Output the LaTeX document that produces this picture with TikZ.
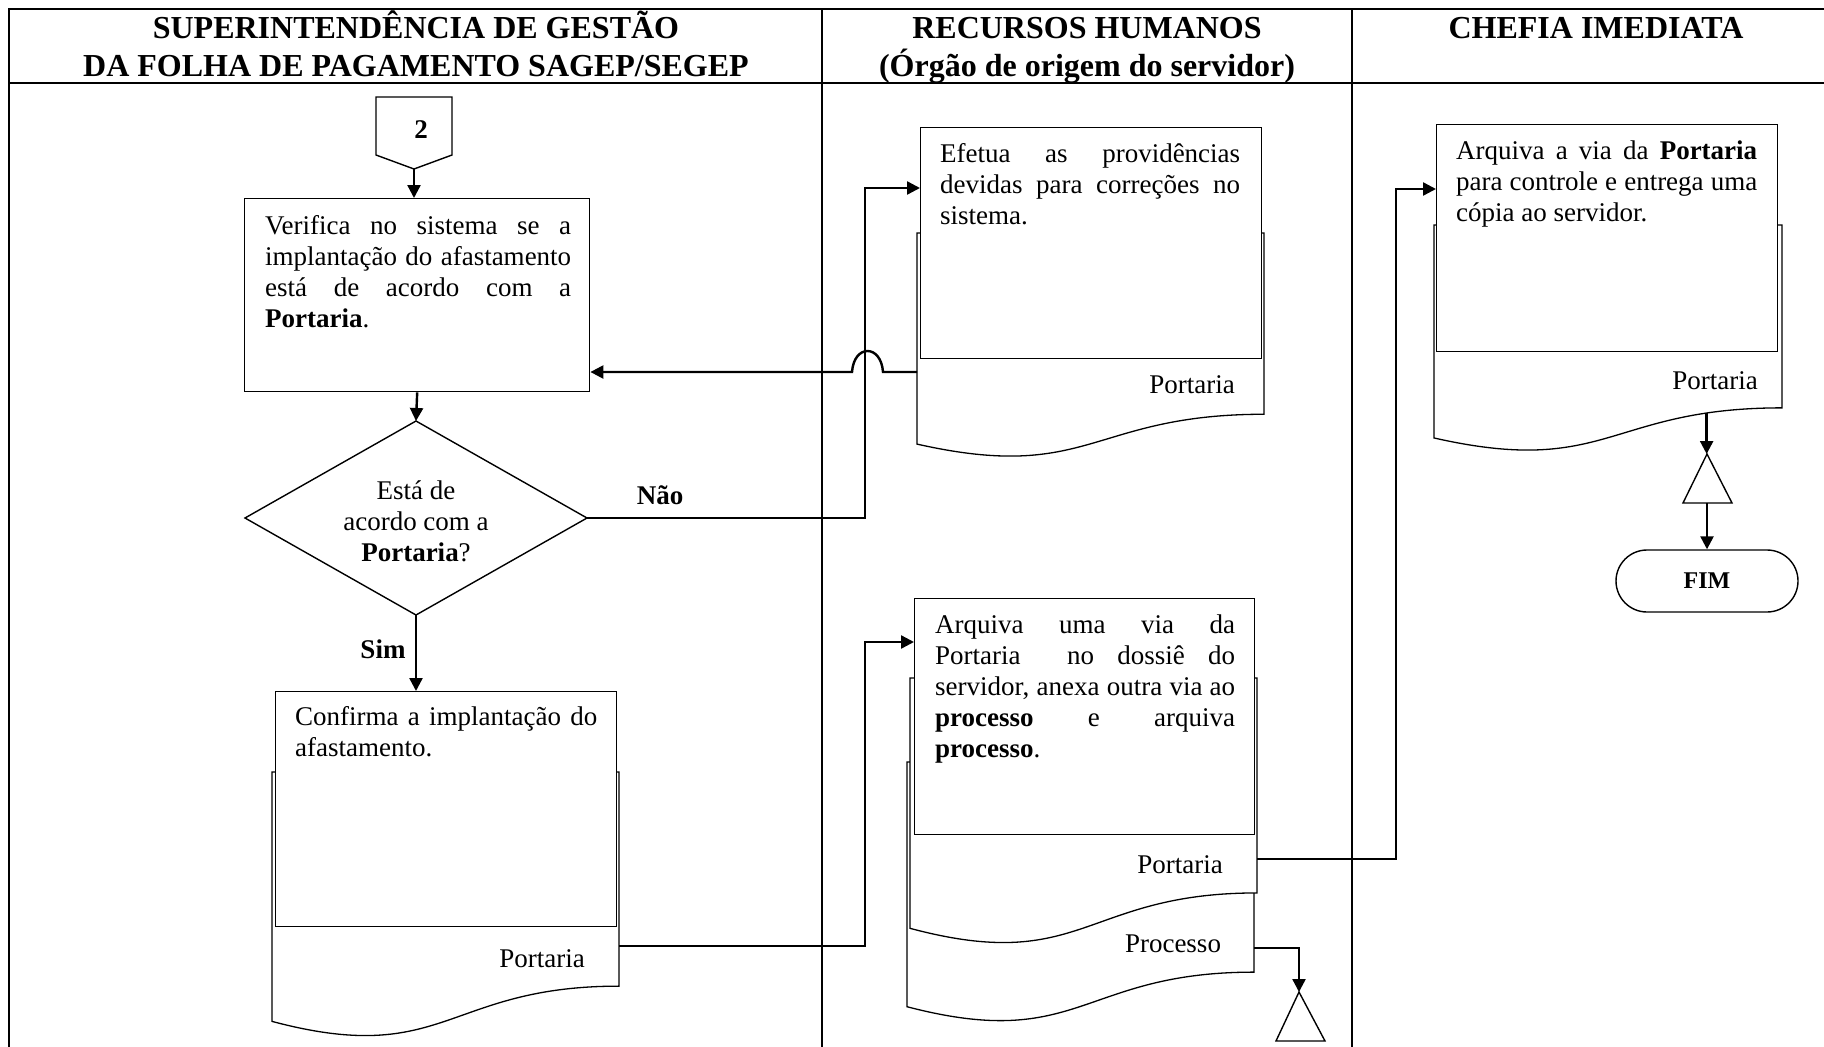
\documentclass[tikz,border=0pt]{standalone}
\usepackage{fontspec}
\setmainfont{Liberation Serif}
\usetikzlibrary{arrows.meta}

% body text: justified paragraph whose first baseline is the node's base
\newcommand\para[2]{\parbox[t]{#1pt}{\fontsize{27}{31}\selectfont\hyphenpenalty=10000\exhyphenpenalty=10000 #2}}
\newcommand\hdr{\fontsize{32}{38}\selectfont\bfseries}
\newcommand\bodyfont{\fontsize{27}{31}\selectfont}

% document symbol with a wavy lower edge: name, x0, y0, width, height
\newcommand\docshape[5]{%
  \draw[doc] (#2,#3) coordinate (#1-tl) -- ({#2+#4},#3) coordinate (#1-tr)
    -- ({#2+#4},{#3+0.802*#5}) coordinate (#1-br)
    .. controls ({#2+0.5*#4},{#3+0.802*#5}) and ({#2+0.5*#4},{#3+1.107*#5}) .. ({#2},{#3+0.934*#5})
    coordinate[pos=0.17] (#1-bot) coordinate (#1-bl) -- cycle;}

\tikzset{
  frame/.style={line width=2.6pt},
  lane/.style={line width=2.2pt},
  box/.style={draw, fill=white, line width=1.4pt, inner sep=0pt, anchor=north west},
  doc/.style={draw, fill=white, line width=1.3pt},
  shapeline/.style={draw, fill=white, line width=1.4pt},
  flow/.style={line width=2.4pt, -{Triangle[length=13pt,width=13pt]}},
  txt/.style={anchor=base west, inner sep=0pt},
  lbl/.style={anchor=base, inner sep=0pt, font=\bodyfont},
}

\begin{document}
\begin{tikzpicture}[x=1pt, y=-1pt]
\useasboundingbox (0,0) rectangle (1824,1047);

% swimlane frame
\draw[frame] (1824,9) -- (9,9) -- (9,1047);
\draw[frame] (9,83) -- (1824,83);
\draw[lane] (822,9) -- (822,1047);
\draw[lane] (1352,9) -- (1352,1047);

% lane headings
\node[anchor=base, inner sep=0pt] (h1a) at (416,38) {\hdr SUPERINTENDÊNCIA DE GESTÃO};
\node[anchor=base, inner sep=0pt] (h1b) at (416,76) {\hdr DA FOLHA DE PAGAMENTO SAGEP/SEGEP};
\node[anchor=base, inner sep=0pt] (h2a) at (1087,38) {\hdr RECURSOS HUMANOS};
\node[anchor=base, inner sep=0pt] (h2b) at (1087,76) {\hdr (Órgão de origem do servidor)};
\node[anchor=base, inner sep=0pt] (h3a) at (1596,38) {\hdr CHEFIA IMEDIATA};

% off-page connector 2
\draw[shapeline] (376,97) -- (452,97) -- (452,155) -- (414,169) coordinate (offpt) -- (376,155) -- cycle;
\node[lbl, font=\bodyfont\bfseries] (offlbl) at (421,138) {2};

% Verifica
\node[box, minimum width=345pt, minimum height=193pt] (verifica) at (244,198) {};
\node[txt] (verificatxt) at (265,234) {\para{306}{Verifica no sistema se a\linebreak implantação do afastamento\linebreak está de acordo com a\linebreak \textbf{Portaria}.}};

% decision
\draw[shapeline] (416,421) coordinate (dtop) -- (587,518) coordinate (dright)
  -- (416,615) coordinate (dbot) -- (245,518) coordinate (dleft) -- cycle;
\node[anchor=base, inner sep=0pt] (dtxt) at (416,499) {\parbox[t]{220pt}{\centering\fontsize{27}{31}\selectfont Está de\\acordo com a\\\textbf{Portaria}?}};

% Confirma
\docshape{cdoc}{272}{772}{347}{267}
\node[box, minimum width=341pt, minimum height=235pt] (confirma) at (275,691) {};
\node[txt] (confirmatxt) at (295,725) {\para{302}{Confirma a implantação do\linebreak afastamento.}};
\node[lbl] (cdoclbl) at (542,967) {Portaria};
\coordinate (cport) at (619,946);

% Efetua
\docshape{edoc}{917}{233}{347}{226}
\node[box, minimum width=341pt, minimum height=231pt] (efetua) at (920,127) {};
\node[txt] (efetuatxt) at (940,162) {\para{300}{Efetua as providências\linebreak devidas para correções no\linebreak sistema.}};
\node[lbl] (edoclbl) at (1192,393) {Portaria};
\coordinate (eport) at (917,372);

% Arquiva (RH)
\docshape{rdoc2}{907}{762}{347}{262}
\docshape{rdoc1}{910}{678}{347}{268}
\node[box, minimum width=340pt, minimum height=236pt] (rharq) at (914,598) {};
\node[txt] (rharqtxt) at (935,633) {\para{300}{Arquiva uma via da\linebreak Portaria\ \ no dossiê do\linebreak servidor, anexa outra via ao\linebreak \textbf{processo} e arquiva\linebreak \textbf{processo}.}};
\node[lbl] (rdoc1lbl) at (1180,873) {Portaria};
\node[lbl] (rdoc2lbl) at (1173,952) {Processo};
\coordinate (rport1) at (1257,859);
\coordinate (rport2) at (1254,948);

% Arquiva (Chefia)
\docshape{chdoc}{1434}{225}{348}{228}
\node[box, minimum width=341pt, minimum height=227pt] (chefia) at (1436,124) {};
\node[txt] (chefiatxt) at (1456,159) {\para{301}{Arquiva a via da \textbf{Portaria}\linebreak para controle e entrega uma\linebreak cópia ao servidor.}};
\node[lbl] (chdoclbl) at (1715,389) {Portaria};

% archive triangles
\draw[shapeline] (1707,454) coordinate (tri1) -- (1732,503) -- (1683,503) -- cycle;
\coordinate (tri1b) at (1707,503);
\draw[shapeline] (1299,992) coordinate (tri2) -- (1325,1041) -- (1276,1041) -- cycle;

% end terminal
\node[draw, line width=1.4pt, rounded corners=31pt, minimum width=182pt, minimum height=62pt, inner sep=0pt, font=\fontsize{24}{27}\selectfont\bfseries] (fim) at (1707,581) {FIM};

% connectors
\coordinate (nbend) at (865,188);
\coordinate (cbend) at (865,642);
\coordinate (chbend) at (1396,189);

\draw[flow] (offpt) -- (offpt |- verifica.north);
\draw[flow] (verifica.south) -- (dtop);
\draw[flow] (dbot) -- (dbot |- confirma.north);
\draw[flow] (dright) -| (nbend) -- (nbend -| efetua.west);
\draw[flow] (eport) -- (883,372) .. controls (881,344) and (854,344) .. (852,372) -- (eport -| verifica.east);
\draw[flow] (cport) -| (cbend) -- (cbend -| rharq.west);
\draw[flow] (rport1) -| (chbend) -- (chbend -| chefia.west);
\draw[flow] (rport2) -| (tri2);
\draw[flow] (chdoc-bot) -- (chdoc-bot |- tri1);
\draw[flow] (tri1b) -- (fim.north);

% branch labels
\node[lbl, font=\bodyfont\bfseries] (nao) at (660,504) {Não};
\node[lbl, font=\bodyfont\bfseries] (sim) at (383,658) {Sim};
\end{tikzpicture}
\end{document}
